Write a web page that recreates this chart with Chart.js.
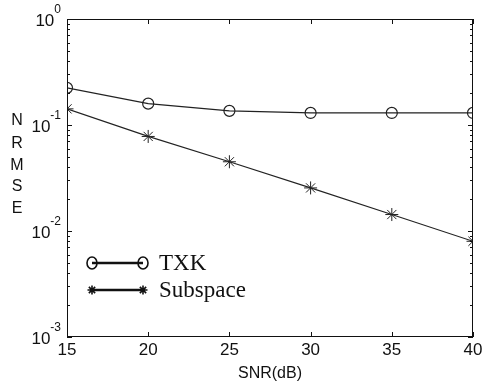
<!DOCTYPE html>
<html lang="en">
<head>
    <meta charset="UTF-8">
    <title>NRMSE vs SNR</title>
    <style>
        body {
            margin: 0;
            padding: 0;
            background-color: white;
        }
        .chart-box {
            width: 483px;
            height: 385px;
        }
    </style>
</head>
<body>
    <div class="chart-box">
        <canvas id="nrmseChart" width="483" height="385"></canvas>
    </div>

    <script src="https://cdn.jsdelivr.net/npm/chart.js"></script>
    <script>
        // Data
        const snrValues = [15, 20, 25, 30, 35, 40];
        const txkNrmse = [0.224, 0.159, 0.136, 0.130, 0.130, 0.130];
        const subspaceNrmse = [0.142, 0.078, 0.045, 0.0255, 0.0143, 0.0080];

        // Axis ticks
        const xTicks = [15, 20, 25, 30, 35, 40];
        const yDecades = [0.001, 0.01, 0.1, 1];
        const yDecadeExp = ['-3', '-2', '-1', '0'];

        const legendItems = [
            { label: 'TXK', style: 'circle' },
            { label: 'Subspace', style: 'star' }
        ];

        function toPoints(xs, ys) {
            return xs.map((x, i) => ({ x: x, y: ys[i] }));
        }

        // Box, inside tick marks, decade labels, y title and legend
        const framePlugin = {
            id: 'frame',
            afterDraw(chart) {
                const ctx = chart.ctx;
                const area = chart.chartArea;
                const xs = chart.scales.x;
                const ys = chart.scales.y;
                ctx.save();
                ctx.strokeStyle = '#111';
                ctx.lineWidth = 1;
                ctx.strokeRect(area.left + 0.5, area.top + 0.5, area.right - area.left - 1, area.bottom - area.top - 1);

                // x ticks top & bottom
                ctx.beginPath();
                xTicks.forEach(v => {
                    const px = Math.round(xs.getPixelForValue(v)) + 0.5;
                    ctx.moveTo(px, area.bottom);
                    ctx.lineTo(px, area.bottom - 5);
                    ctx.moveTo(px, area.top);
                    ctx.lineTo(px, area.top + 5);
                });
                // y ticks (log minor + major) left & right
                for (let d = 0; d < yDecades.length; d++) {
                    for (let k = 1; k <= 9; k++) {
                        const v = yDecades[d] * k;
                        if (v > 1) break;
                        const py = Math.round(ys.getPixelForValue(v)) + 0.5;
                        const len = k === 1 ? 5 : 3;
                        ctx.moveTo(area.left, py);
                        ctx.lineTo(area.left + len, py);
                        ctx.moveTo(area.right, py);
                        ctx.lineTo(area.right - len, py);
                    }
                }
                ctx.stroke();

                // decade labels 10^n
                ctx.fillStyle = '#111';
                ctx.textBaseline = 'middle';
                yDecades.forEach((v, i) => {
                    const py = ys.getPixelForValue(v);
                    ctx.font = '12px Arial, "Liberation Sans", sans-serif';
                    ctx.textAlign = 'right';
                    const supRight = 61;
                    ctx.fillText(yDecadeExp[i], supRight, py - 9);
                    const supW = ctx.measureText(yDecadeExp[i]).width;
                    ctx.font = '17px Arial, "Liberation Sans", sans-serif';
                    ctx.fillText('10', supRight - supW, py + 2);
                });

                // y title: stacked letters
                ctx.font = '16px Arial, "Liberation Sans", sans-serif';
                ctx.textAlign = 'center';
                const title = 'NRMSE';
                const letterY = [121, 144, 166, 187, 209];
                for (let i = 0; i < title.length; i++) {
                    ctx.fillText(title[i], 17, letterY[i]);
                }

                // legend inside the axes
                const lx0 = 92, lx1 = 143;
                const ly = [263, 290];
                legendItems.forEach((item, i) => {
                    const y = ly[i];
                    ctx.strokeStyle = '#111';
                    ctx.lineWidth = 2.5;
                    ctx.beginPath();
                    ctx.moveTo(lx0, y);
                    ctx.lineTo(lx1, y);
                    ctx.stroke();
                    ctx.lineWidth = 1.6;
                    [lx0, lx1].forEach(cx => {
                        ctx.beginPath();
                        if (item.style === 'circle') {
                            ctx.ellipse(cx, y, 5, 6, 0, 0, Math.PI * 2);
                        } else {
                            const r = 4.5;
                            ctx.moveTo(cx - r, y); ctx.lineTo(cx + r, y);
                            ctx.moveTo(cx, y - r); ctx.lineTo(cx, y + r);
                            ctx.moveTo(cx - r * 0.7, y - r * 0.7); ctx.lineTo(cx + r * 0.7, y + r * 0.7);
                            ctx.moveTo(cx - r * 0.7, y + r * 0.7); ctx.lineTo(cx + r * 0.7, y - r * 0.7);
                        }
                        ctx.stroke();
                    });
                    ctx.font = '23px "Liberation Serif", "Times New Roman", serif';
                    ctx.textAlign = 'left';
                    ctx.fillText(item.label, 159, y + 1);
                });
                ctx.restore();
            }
        };

        new Chart(document.getElementById('nrmseChart'), {
            type: 'line',
            data: {
                datasets: [
                    {
                        label: 'TXK',
                        data: toPoints(snrValues, txkNrmse),
                        borderColor: '#222',
                        borderWidth: 1.2,
                        pointStyle: 'circle',
                        pointRadius: 5.5,
                        pointBorderWidth: 1.2,
                        pointBackgroundColor: 'rgba(0,0,0,0)',
                        pointBorderColor: '#222',
                        fill: false,
                        tension: 0
                    },
                    {
                        label: 'Subspace',
                        data: toPoints(snrValues, subspaceNrmse),
                        borderColor: '#222',
                        borderWidth: 1.2,
                        pointStyle: 'star',
                        pointRadius: 6.5,
                        pointBorderWidth: 1,
                        pointBorderColor: '#222',
                        fill: false,
                        tension: 0
                    }
                ]
            },
            options: {
                responsive: false,
                animation: false,
                events: [],
                layout: {
                    padding: { left: 0, right: 10, top: 19, bottom: 0 }
                },
                plugins: {
                    legend: { display: false },
                    tooltip: { enabled: false }
                },
                scales: {
                    x: {
                        type: 'linear',
                        min: 15,
                        max: 40,
                        afterBuildTicks: (scale) => {
                            scale.ticks = xTicks.map(v => ({ value: v }));
                        },
                        afterFit: (scale) => {
                            scale.height = 48;
                            scale.paddingLeft = 0;
                            scale.paddingRight = 0;
                        },
                        grid: { display: false, drawTicks: false },
                        border: { display: false },
                        ticks: {
                            color: '#111',
                            padding: 3,
                            maxRotation: 0,
                            font: { family: 'Arial, "Liberation Sans", sans-serif', size: 17 }
                        },
                        title: {
                            display: true,
                            text: 'SNR(dB)',
                            color: '#111',
                            padding: { top: 0, bottom: 2 },
                            font: { family: 'Arial, "Liberation Sans", sans-serif', size: 16 }
                        }
                    },
                    y: {
                        type: 'logarithmic',
                        min: 0.001,
                        max: 1,
                        afterFit: (scale) => { scale.width = 67; },
                        grid: { display: false, drawTicks: false },
                        border: { display: false },
                        ticks: { display: false }
                    }
                }
            },
            plugins: [framePlugin]
        });
    </script>
</body>
</html>
